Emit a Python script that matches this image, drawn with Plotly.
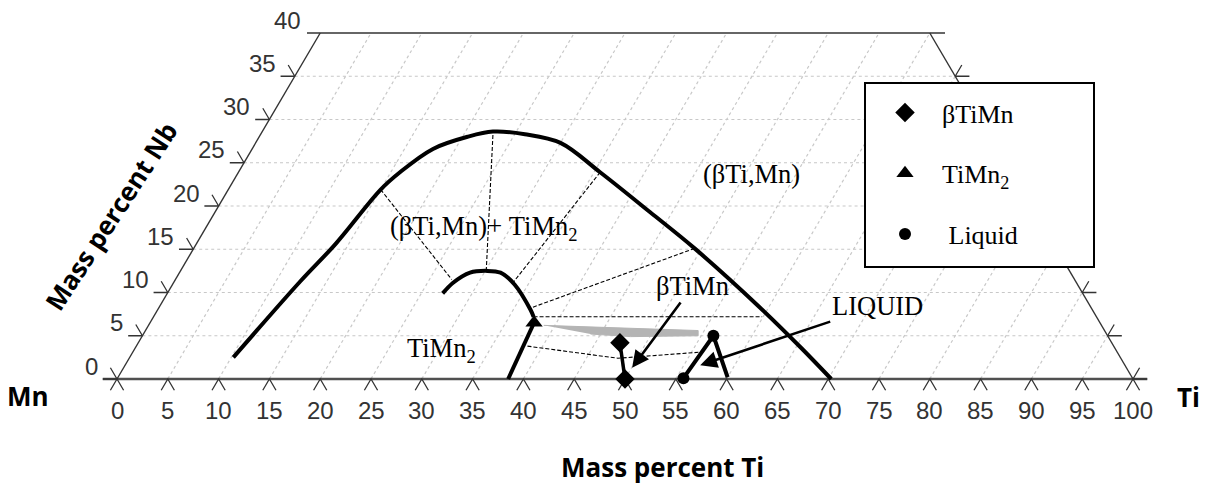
import plotly.graph_objects as go

# ---------------- data (mass percent) ----------------
TI_TICKS = list(range(0, 101, 5))
NB_TICKS = list(range(0, 41, 5))
NB_MAX = 40

# (betaTi,Mn) phase boundary
beta_bnd_ti = [10.2, 12.4, 13.7, 15.0, 15.9, 17.8, 20.5, 22.7, 26.0, 30.0, 35.6, 42.8, 49.3, 59.1, 65.4, 70.3]
beta_bnd_nb = [2.5, 11.3, 15.6, 21.9, 23.9, 26.6, 28.0, 28.6, 28.3, 27.3, 23.9, 19.3, 15.1, 8.3, 3.7, 0.0]

# TiMn2 phase boundary
timn2_bnd_ti = [27.1, 27.5, 28.6, 30.2, 31.6, 33.7, 36.7, 37.4]
timn2_bnd_nb = [9.9, 11.1, 12.3, 12.5, 12.3, 10.9, 8.0, 7.2]

# tie lines (dashed)
tie_ti = [[15.0, 27.2], [22.9, 30.0], [35.6, 33.4], [49.3, 36.6], [37.4, 59.9], [38.5, 48.1, 55.8]]
tie_nb = [[21.9, 11.5], [28.2, 12.7], [23.9, 11.1], [15.1, 8.2], [7.2, 7.2], [3.8, 2.4, 3.1]]

# grey three-phase band
band_ti = [38.9, 54.4, 54.7, 48.1, 44.0]
band_nb = [6.2, 5.6, 5.0, 4.9, 5.2]

# measured phase compositions
timn2_line_ti = [38.5, 37.8]
timn2_line_nb = [0.0, 6.5]
timn2_pt_ti = [37.8]
timn2_pt_nb = [6.5]

beta_pt_ti = [47.4, 50.0]
beta_pt_nb = [4.2, 0.0]

liquid_line_ti = [55.7, 56.2, 60.0]
liquid_line_nb = [0.1, 5.0, 0.2]
liquid_pt_ti = [55.7, 56.2]
liquid_pt_nb = [0.1, 5.0]

# labels
region_labels = ["(βTi,Mn)+ TiMn<sub>2</sub>", "(βTi,Mn)", "TiMn<sub>2</sub>"]
region_ti = [27.3, 50.6, 30.3]
region_nb = [17.5, 23.7, 3.35]

arrow_labels = ["βTiMn", "LIQUID"]
arrow_text_ti = [51.3, 70.6]
arrow_text_nb = [10.75, 8.45]
arrow_head_ti = [50.05, 56.6]
arrow_head_nb = [1.3, 1.6]

# ---------------- page geometry ----------------
W, H = 1208, 483
OFF = 8  # default page margin of the html body


def X(ti, nb):
    return [None if t is None else t + n / 2.0 for t, n in zip(ti, nb)]


def px(x):
    return (x - OFF) / W


def py(y):
    return 1 - (y - OFF) / H


fig = go.Figure()

# ---------------- grid ----------------
gx, gy = [], []
for n in NB_TICKS[1:-1]:
    gx += [n / 2.0, 100 - n / 2.0, None]
    gy += [n, n, None]
for t in TI_TICKS[1:-1]:
    top = min(NB_MAX, 100 - t)
    gx += [t, t + top / 2.0, None]
    gy += [0, top, None]
fig.add_trace(go.Scatter(x=gx, y=gy, mode="lines", hoverinfo="skip", showlegend=False,
                         line=dict(color="#c8c8c8", width=1.2, dash="3px,3px")))

# ---------------- frame and ticks ----------------
AX = "#333333"
fig.add_trace(go.Scatter(x=[-1.4, 101.4], y=[0, 0], mode="lines", showlegend=False, hoverinfo="skip",
                         line=dict(color="#505050", width=2.3)))
fx = [0, NB_MAX / 2.0, None, 100, 100 - NB_MAX / 2.0, None, NB_MAX / 2.0 - 1.3, 100 - NB_MAX / 2.0 + 1.5]
fy = [0, NB_MAX, None, 0, NB_MAX, None, NB_MAX, NB_MAX]
fig.add_trace(go.Scatter(x=fx, y=fy, mode="lines", showlegend=False, hoverinfo="skip",
                         line=dict(color=AX, width=1.4)))
tx, ty = [], []
for t in TI_TICKS:
    tx += [t - 0.65, t, t + 0.65, None]
    ty += [-1.3, 0, -1.3, None]
for n in NB_TICKS[:-1]:
    xl = n / 2.0
    tx += [xl - 1.4, xl, xl - 0.65, None]
    ty += [n, n, n + 1.3, None]
    xr = 100 - n / 2.0
    tx += [xr + 1.4, xr, xr + 0.65, None]
    ty += [n, n, n + 1.3, None]
fig.add_trace(go.Scatter(x=tx, y=ty, mode="lines", showlegend=False, hoverinfo="skip",
                         line=dict(color=AX, width=1.3)))

# ---------------- phase diagram ----------------
fig.add_trace(go.Scatter(x=X(band_ti, band_nb), y=band_nb, mode="lines", fill="toself",
                         fillcolor="#b4b4b4", line=dict(color="#b4b4b4", width=1),
                         showlegend=False, hoverinfo="skip"))
for ti, nb in zip(tie_ti, tie_nb):
    fig.add_trace(go.Scatter(x=X(ti, nb), y=nb, mode="lines", showlegend=False, hoverinfo="skip",
                             line=dict(color="black", width=1.1, dash="4px,2px")))
fig.add_trace(go.Scatter(x=X(beta_bnd_ti, beta_bnd_nb), y=beta_bnd_nb, mode="lines", showlegend=False,
                         line=dict(color="black", width=4, shape="spline", smoothing=1.0)))
fig.add_trace(go.Scatter(x=X(timn2_bnd_ti, timn2_bnd_nb), y=timn2_bnd_nb, mode="lines", showlegend=False,
                         line=dict(color="black", width=4, shape="spline", smoothing=0.8)))

fig.add_trace(go.Scatter(x=X(timn2_line_ti, timn2_line_nb), y=timn2_line_nb, mode="lines", showlegend=False,
                         line=dict(color="black", width=4)))
fig.add_trace(go.Scatter(x=X(beta_pt_ti, beta_pt_nb), y=beta_pt_nb, mode="lines", showlegend=False,
                         line=dict(color="black", width=3.5)))
fig.add_trace(go.Scatter(x=X(liquid_line_ti, liquid_line_nb), y=liquid_line_nb, mode="lines", showlegend=False,
                         line=dict(color="black", width=4)))

fig.add_trace(go.Scatter(x=X(beta_pt_ti, beta_pt_nb), y=beta_pt_nb, mode="markers", name="βTiMn",
                         legendgroup="g1", marker=dict(symbol="diamond", size=15, color="black")))
fig.add_trace(go.Scatter(x=X(timn2_pt_ti, timn2_pt_nb), y=timn2_pt_nb, mode="markers", name="TiMn<sub>2</sub>",
                         legendgroup="g2", marker=dict(symbol="triangle-up", size=15, color="black")))
fig.add_trace(go.Scatter(x=X(liquid_pt_ti, liquid_pt_nb), y=liquid_pt_nb, mode="markers", name=" Liquid",
                         legendgroup="g3", marker=dict(symbol="circle", size=12, color="black")))

# ---------------- annotations ----------------
ann = []
SERIF = "Liberation Serif"
SERIF_FONT = dict(family=SERIF, size=26.5, color="black")
for lab, ti, nb in zip(region_labels, region_ti, region_nb):
    ann.append(dict(x=ti + nb / 2.0, y=nb, text=lab, showarrow=False, xanchor="center",
                    font=SERIF_FONT))
for i, lab in enumerate(arrow_labels):
    ann.append(dict(x=arrow_head_ti[i] + arrow_head_nb[i] / 2.0, y=arrow_head_nb[i],
                    ax=arrow_text_ti[i] + arrow_text_nb[i] / 2.0, ay=arrow_text_nb[i],
                    axref="x", ayref="y", xref="x", yref="y", text=lab, showarrow=True,
                    arrowhead=2, arrowsize=1.3, arrowwidth=2.6, arrowcolor="black",
                    font=SERIF_FONT))

TICKFONT = dict(family="Liberation Sans", size=24, color="#333333")
for t in TI_TICKS:
    ann.append(dict(x=t, y=0, text=str(t), showarrow=False, xanchor="center", yanchor="middle",
                    yshift=-31, font=TICKFONT))
for n in NB_TICKS:
    ann.append(dict(x=n / 2.0, y=n, text=str(n), showarrow=False, xanchor="right", yanchor="middle",
                    xshift=-17, yshift=13, font=TICKFONT))

BOLD = dict(family="Open Sans", size=26, color="black", weight="bold")
ann.append(dict(xref="paper", yref="paper", x=px(662), y=py(467), text="Mass percent Ti",
                showarrow=False, xanchor="center", yanchor="middle", font=BOLD))
ann.append(dict(xref="paper", yref="paper", x=px(111), y=py(216), text="Mass percent Nb",
                showarrow=False, textangle=-57, xanchor="center", yanchor="middle", font=BOLD))
ann.append(dict(xref="paper", yref="paper", x=px(28), y=py(396), text="Mn",
                showarrow=False, xanchor="center", yanchor="middle", font=BOLD))
ann.append(dict(xref="paper", yref="paper", x=px(1188), y=py(397), text="Ti",
                showarrow=False, xanchor="center", yanchor="middle", font=BOLD))

# axis ranges chosen so that the trapezoid sits where the reference puts it
x_lo = -(117 - OFF) / 10.16
y_hi = (379 - OFF) / 8.65
fig.update_layout(
    width=W, height=H, autosize=False,
    margin=dict(l=0, r=0, t=0, b=0),
    paper_bgcolor="white", plot_bgcolor="white",
    xaxis=dict(range=[x_lo, x_lo + W / 10.16], visible=False, fixedrange=True),
    yaxis=dict(range=[y_hi - H / 8.65, y_hi], visible=False, fixedrange=True),
    annotations=ann,
    shapes=[dict(type="rect", xref="paper", yref="paper", x0=px(865), x1=px(1094),
                 y0=py(267), y1=py(83), fillcolor="white",
                 line=dict(color="black", width=2), layer="above")],
    legend=dict(x=px(868), y=py(89), xanchor="left", yanchor="top",
                bgcolor="rgba(0,0,0,0)", borderwidth=0, itemwidth=64,
                traceorder="grouped", tracegroupgap=24,
                font=dict(family=SERIF, size=26, color="black")),
    showlegend=True,
)

fig.write_html("out.html")
